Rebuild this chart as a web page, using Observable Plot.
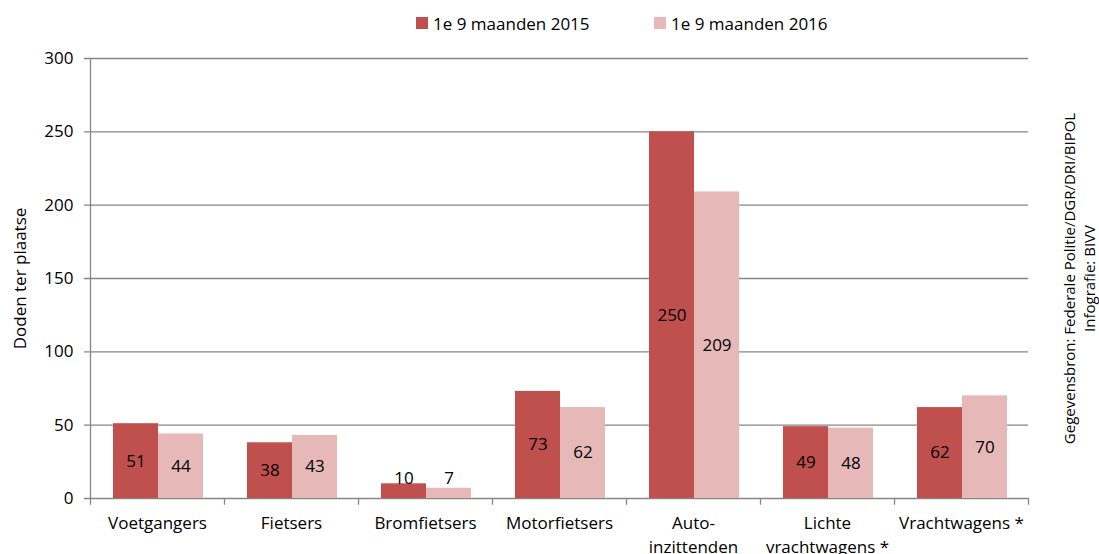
<!DOCTYPE html>
<html><head><meta charset="utf-8">
<script src="https://cdn.jsdelivr.net/npm/d3@7"></script>
<script src="https://cdn.jsdelivr.net/npm/@observablehq/plot@0.6"></script>
<style>
html,body{margin:0;padding:0;background:#fff;}
#wrap{position:relative;width:1099px;height:554px;font-family:"Open Sans",sans-serif;color:#000;}
#legend{position:absolute;top:11px;left:0;width:1099px;height:24px;font-size:17px;}
.item{position:absolute;top:0;display:flex;align-items:center;height:24px;}
.sw{display:inline-block;width:12px;height:12px;margin-right:5px;}
#chart{position:absolute;top:0;left:0;}
</style></head><body>
<div id="wrap"><div id="chart"></div><div id="legend"></div></div>
<script>
const categories = ["Voetgangers","Fietsers","Bromfietsers","Motorfietsers","Auto-\ninzittenden","Lichte\nvrachtwagens *","Vrachtwagens *"];
const seriesNames = ["1e 9 maanden 2015","1e 9 maanden 2016"];
const values2015 = [51,38,10,73,250,49,62];
const values2016 = [44,43,7,62,209,48,70];
const yTicks = [0,50,100,150,200,250,300];
const colors = ["#C0504D","#E6B9B8"];
const yLabel = "Doden ter plaatse";
const sourceLines = ["Gegevensbron: Federale Politie/DGR/DRI/BIPOL","Infografie: BIVV"];

const rows2015 = categories.map((c,i)=>({category:c, series:seriesNames[0], value:values2015[i]}));
const rows2016 = categories.map((c,i)=>({category:c, series:seriesNames[1], value:values2016[i]}));
const labelY = d => Math.max(d.value/2, 13.6);
const axisColor = "#868686";

const chart = Plot.plot({
  width: 1099, height: 554,
  marginLeft: 90, marginRight: 71, marginTop: 58, marginBottom: 56,
  style: {fontFamily: "Open Sans, sans-serif", fontSize: "17px", color: "#000", background: "#fff"},
  x: {domain: categories, padding: 0, axis: null},
  y: {domain: [0,300], axis: null},
  color: {domain: seriesNames, range: colors},
  marks: [
    Plot.ruleY(yTicks, {stroke: axisColor, strokeWidth: 1.3, insetLeft: -6}),
    Plot.barY(rows2015, {x:"category", y:"value", fill:"series", insetLeft:23, insetRight:66}),
    Plot.barY(rows2016, {x:"category", y:"value", fill:"series", insetLeft:68, insetRight:21}),
    Plot.text(rows2015, {x:"category", y:labelY, text: d=>String(d.value), dx:-21.5, fill:"#000", fontSize:17}),
    Plot.text(rows2016, {x:"category", y:labelY, text: d=>String(d.value), dx:23.5, fill:"#000", fontSize:17}),
    // y axis line
    Plot.ruleX([categories[0]], {y1:0, y2:300, dx:-67, stroke: axisColor, strokeWidth:1.3}),
    // category boundary ticks
    Plot.ruleX(categories, {x: d=>d, y1:0, y2:-4.6, dx:-67, stroke: axisColor, strokeWidth:1.3}),
    Plot.ruleX([categories[categories.length-1]], {y1:0, y2:-4.6, dx:67, stroke: axisColor, strokeWidth:1.3}),
    // x labels
    Plot.text(categories, {x: d=>d, y: ()=>0, text: d=>d, lineAnchor:"top", dy:14, lineHeight:1.4, fontSize:17, fill:"#000"}),
    // y labels
    Plot.text(yTicks, {y: d=>d, text: d=>String(d), frameAnchor:"left", textAnchor:"end", dx:-17, fontSize:17, fill:"#000"}),
    Plot.text([yLabel], {frameAnchor:"left", textAnchor:"middle", rotate:-90, dx:-70, fontSize:17, fill:"#000"}),
    Plot.text([sourceLines[0]], {frameAnchor:"right", textAnchor:"middle", rotate:-90, dx:42, fontSize:15, fill:"#000"}),
    Plot.text([sourceLines[1]], {frameAnchor:"right", textAnchor:"middle", rotate:-90, dx:62, fontSize:15, fill:"#000"})
  ]
});
document.getElementById("chart").appendChild(chart);

const legend = document.getElementById("legend");
const legendX = [416, 654];
seriesNames.forEach((s,i)=>{
  const it = document.createElement("div");
  it.className = "item";
  it.style.left = legendX[i] + "px";
  it.innerHTML = `<span class="sw" style="background:${colors[i]}"></span><span>${s}</span>`;
  legend.appendChild(it);
});
</script>
</body></html>
